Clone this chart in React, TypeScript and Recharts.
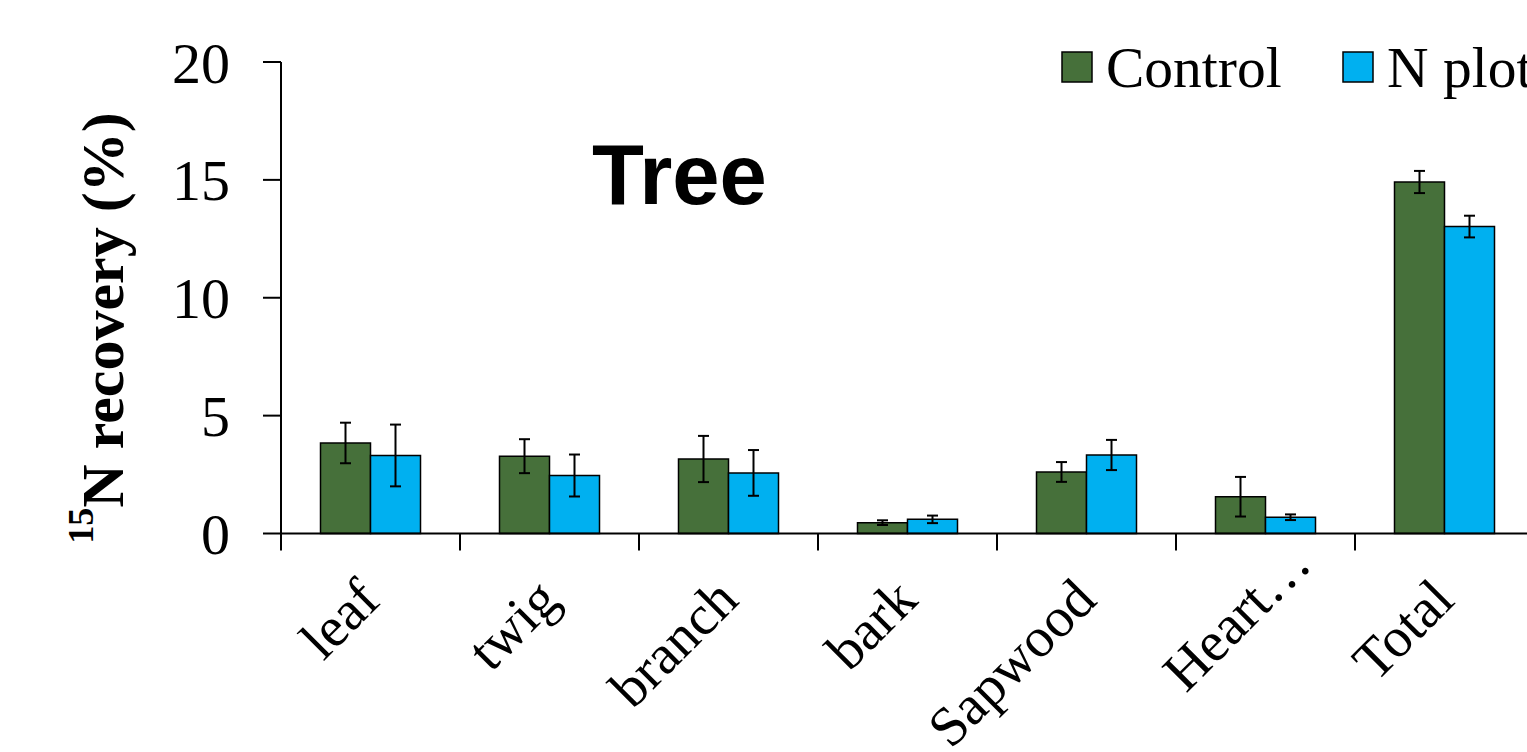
import React from 'react'
import {
  BarChart,
  Bar,
  XAxis,
  YAxis,
  ErrorBar,
  Legend
} from 'recharts'

// values (15N recovery, %)
const categories = ['leaf', 'twig', 'branch', 'bark', 'Sapwood', 'Heart…', 'Total']
const controlValues = [3.84, 3.28, 3.16, 0.46, 2.61, 1.56, 14.91]
const controlErr = [0.86, 0.72, 0.98, 0.1, 0.42, 0.84, 0.47]
const nPlotValues = [3.31, 2.46, 2.57, 0.6, 3.33, 0.69, 13.02]
const nPlotErr = [1.31, 0.89, 0.97, 0.16, 0.64, 0.12, 0.46]
const yTicks = [0, 5, 10, 15, 20]

const data = categories.map((name, i) => ({
  name,
  control: controlValues[i],
  controlErr: controlErr[i],
  nPlot: nPlotValues[i],
  nPlotErr: nPlotErr[i]
}))

const SERIF = '"Liberation Serif", "Times New Roman", serif'
const SANS = '"Liberation Sans", Arial, sans-serif'

const CHART_W = 1544
const CHART_H = 752
const Y_AXIS_W = 281
const MARGIN = { top: 62, right: 10, bottom: 18.5, left: 0 }
const PLOT_W = CHART_W - Y_AXIS_W - MARGIN.left - MARGIN.right
const BAND = PLOT_W / categories.length

// category label rotated -45deg, plus an Excel-style tick on the left edge of the band
const CategoryTick = ({ x, y, payload }: any) => {
  const left = x - BAND / 2
  // truncated labels sit further along the diagonal in the original
  const shift = String(payload.value).endsWith('…') ? 36 : 0
  return (
    <g>
      <line x1={left} y1={y} x2={left} y2={y + 17} stroke="#000" strokeWidth={2} />
      <g transform={`translate(${x + 12 + shift},${y + 69 - shift})`}>
        <text
          transform="rotate(-45)"
          textAnchor="end"
          fontFamily={SERIF}
          fontSize={56}
          fill="#000"
        >
          {payload.value}
        </text>
      </g>
    </g>
  )
}

const YAxisTitle = () => (
  <text
    x={123}
    y={328}
    transform="rotate(-90, 123, 328)"
    textAnchor="middle"
    fontFamily={SERIF}
    fontWeight="bold"
    fontSize={60}
    fill="#000"
  >
    <tspan fontSize={36} dy={-30}>15</tspan>
    <tspan dy={30}>N recovery (%)</tspan>
  </text>
)

const renderLegend = (props: any) => {
  const { payload } = props
  return (
    <svg width={480} height={70} style={{ overflow: 'visible', display: 'block' }}>
      {payload.map((entry: any, i: number) => (
        <g key={`legend-${i}`} transform={`translate(${i * 281},0)`}>
          <rect x={1} y={8} width={30} height={30} fill={entry.color} stroke="#000" strokeWidth={1.5} />
          <text x={45} y={43} fontFamily={SERIF} fontSize={57.5} fill="#000">
            {entry.value}
          </text>
        </g>
      ))}
    </svg>
  )
}

const App = () => {
  return (
    <div
      style={{
        position: 'fixed',
        left: 0,
        top: 0,
        width: 1527,
        height: 752,
        overflow: 'hidden',
        background: '#fff'
      }}
    >
      <BarChart
        width={CHART_W}
        height={CHART_H}
        data={data}
        margin={MARGIN}
        barGap={0}
        barCategoryGap={39.5}
      >
        <XAxis
          dataKey="name"
          height={200}
          axisLine={{ stroke: '#000', strokeWidth: 2 }}
          tickLine={false}
          tickSize={0}
          tickMargin={0}
          interval={0}
          tick={<CategoryTick />}
        />
        <YAxis
          width={Y_AXIS_W}
          domain={[0, 20]}
          ticks={yTicks}
          interval={0}
          axisLine={{ stroke: '#000', strokeWidth: 2 }}
          tickLine={{ stroke: '#000', strokeWidth: 2 }}
          tickSize={18}
          tickMargin={33}
          tick={{ fontFamily: SERIF, fontSize: 58, fill: '#000' }}
          label={<YAxisTitle />}
        />
        <Legend
          layout="horizontal"
          verticalAlign="middle"
          align="center"
          content={renderLegend}
          wrapperStyle={{ position: 'absolute', left: 1061, top: 44, width: 480 }}
        />
        <Bar
          dataKey="control"
          name="Control"
          fill="#46703A"
          stroke="#000"
          strokeWidth={1.5}
          isAnimationActive={false}
        >
          <ErrorBar dataKey="controlErr" width={5.5} stroke="#000" strokeWidth={2} />
        </Bar>
        <Bar
          dataKey="nPlot"
          name="N plot"
          fill="#00B0F0"
          stroke="#000"
          strokeWidth={1.5}
          isAnimationActive={false}
        >
          <ErrorBar dataKey="nPlotErr" width={5.5} stroke="#000" strokeWidth={2} />
        </Bar>
      </BarChart>

      {/* panel title */}
      <svg
        width={1527}
        height={752}
        style={{ position: 'absolute', left: 0, top: 0, pointerEvents: 'none' }}
      >
        <text x={592} y={204} fontFamily={SANS} fontWeight="bold" fontSize={85} fill="#000">
          Tree
        </text>
      </svg>
    </div>
  )
}

export default App
